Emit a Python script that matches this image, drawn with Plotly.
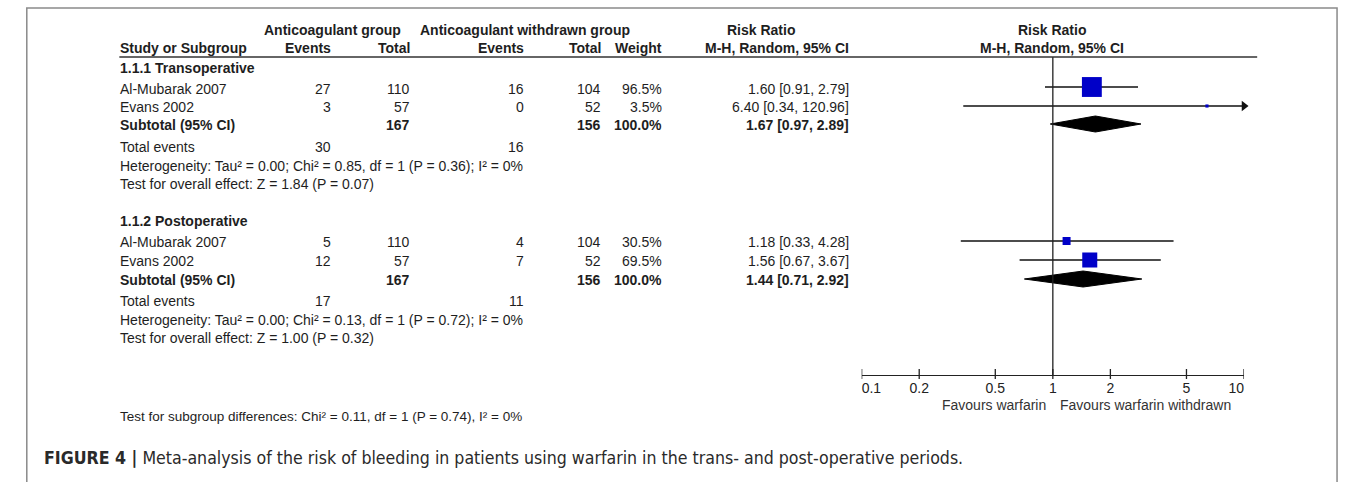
import plotly.graph_objects as go

# ---------------- data ----------------
studies = ["Al-Mubarak 2007", "Evans 2002"]

trans_events_a = [27, 3]
trans_total_a = [110, 57]
trans_events_w = [16, 0]
trans_total_w = [104, 52]
trans_weight = [96.5, 3.5]
trans_rr = [1.60, 6.40]
trans_lo = [0.91, 0.34]
trans_hi = [2.79, 120.96]
trans_sub = [1.67, 0.97, 2.89]
trans_sub_totals = [167, 156]
trans_total_events = [30, 16]
trans_het = "Heterogeneity: Tau² = 0.00; Chi² = 0.85, df = 1 (P = 0.36); I² = 0%"
trans_test = "Test for overall effect: Z = 1.84 (P = 0.07)"

post_events_a = [5, 12]
post_total_a = [110, 57]
post_events_w = [4, 7]
post_total_w = [104, 52]
post_weight = [30.5, 69.5]
post_rr = [1.18, 1.56]
post_lo = [0.33, 0.67]
post_hi = [4.28, 3.67]
post_sub = [1.44, 0.71, 2.92]
post_sub_totals = [167, 156]
post_total_events = [17, 11]
post_het = "Heterogeneity: Tau² = 0.00; Chi² = 0.13, df = 1 (P = 0.72); I² = 0%"
post_test = "Test for overall effect: Z = 1.00 (P = 0.32)"

subgroup_test = "Test for subgroup differences: Chi² = 0.11, df = 1 (P = 0.74), I² = 0%"
tick_vals = [0.1, 0.2, 0.5, 1, 2, 5, 10]
tick_text = ["0.1", "0.2", "0.5", "1", "2", "5", "10"]
axis_max = 10
caption_bold = "FIGURE 4 |"
caption_text = " Meta-analysis of the risk of bleeding in patients using warfarin in the trans- and post-operative periods."

# ---------------- layout constants (pixels) ----------------
W, H = 1355, 482
FONT = "Arial, Liberation Sans, sans-serif"
FS = 14
TXT = "#1e1e1e"
BLUE = "#0000c8"
NBSP = "\u00a0"

X_STUDY = 103
X_EV_A = 321
X_TOT_A = 402
X_EV_W = 519
X_TOT_W = 598
X_WEIGHT = 661
X_RR = 853
AXIS_Y = 375

fig = go.Figure()
annotations = []


def ann(x, y, text, anchor="right", bold=False, size=FS, color=TXT, family=FONT):
    if bold:
        text = "<b>" + text + "</b>"
    annotations.append(dict(x=x, y=y, xref="x", yref="y", text=text, showarrow=False,
                            xanchor=anchor, yanchor="middle", borderpad=0,
                            font=dict(family=family, size=size, color=color)))


def fmt_rr(r, lo, hi):
    return f"{r:.2f} [{lo:.2f}, {hi:.2f}]"


# headers
ann(322, 30, "Anticoagulant group", "center", True)
ann(519, 30, "Anticoagulant withdrawn group", "center", True)
ann(762, 30, "Risk Ratio", "center", True)
ann(1060, 30, "Risk Ratio", "center", True)
ann(X_STUDY, 48, "Study or Subgroup", "left", True)
ann(X_EV_A, 48, "Events", "right", True)
ann(X_TOT_A, 48, "Total", "right", True)
ann(X_EV_W, 48, "Events", "right", True)
ann(X_TOT_W, 48, "Total", "right", True)
ann(X_WEIGHT, 48, "Weight", "right", True)
ann(X_RR, 48, "M-H, Random, 95% CI", "right", True)
ann(1060, 48, "M-H, Random, 95% CI", "center", True)


def group_block(title, y_title, text_rows, y_sub, y_tot, y_het, y_test,
                ev_a, tot_a, ev_w, tot_w, wt, rr, lo, hi, sub, sub_tot,
                tot_ev, het, test, mark_rows, sub_mark_row):
    ann(X_STUDY, y_title, title, "left", True)
    for i, s in enumerate(studies):
        y = text_rows[i]
        ann(X_STUDY, y, s, "left")
        ann(X_EV_A, y, str(ev_a[i]))
        ann(X_TOT_A, y, str(tot_a[i]))
        ann(X_EV_W, y, str(ev_w[i]))
        ann(X_TOT_W, y, str(tot_w[i]))
        ann(X_WEIGHT, y, f"{wt[i]:.1f}%")
        ann(X_RR, y, fmt_rr(rr[i], lo[i], hi[i]))
    ann(X_STUDY, y_sub, "Subtotal (95% CI)", "left", True)
    ann(X_TOT_A, y_sub, str(sub_tot[0]), "right", True)
    ann(X_TOT_W, y_sub, str(sub_tot[1]), "right", True)
    ann(X_WEIGHT, y_sub, "100.0%", "right", True)
    ann(X_RR, y_sub, fmt_rr(*sub), "right", True)
    ann(X_STUDY, y_tot, "Total events", "left")
    ann(X_EV_A, y_tot, str(tot_ev[0]))
    ann(X_EV_W, y_tot, str(tot_ev[1]))
    ann(X_STUDY, y_het, het, "left")
    ann(X_STUDY, y_test, test, "left")

    # forest marks
    for i in range(len(studies)):
        y = mark_rows[i]
        right = min(hi[i], axis_max)
        fig.add_trace(go.Scatter(x=[lo[i], right], y=[y, y], xaxis="x2", yaxis="y",
                                 mode="lines", line=dict(color="#111", width=1.3),
                                 hoverinfo="skip", showlegend=False, cliponaxis=False))
        if hi[i] > axis_max:
            fig.add_trace(go.Scatter(x=[axis_max], y=[y], xaxis="x2", yaxis="y",
                                     mode="markers",
                                     marker=dict(symbol="triangle-right", size=9, color="#111"),
                                     hoverinfo="skip", showlegend=False, cliponaxis=False))
        fig.add_trace(go.Scatter(x=[rr[i]], y=[y], xaxis="x2", yaxis="y", mode="markers",
                                 marker=dict(symbol="square", size=2.5 + 0.18 * wt[i],
                                             color=BLUE, line=dict(width=0)),
                                 hoverinfo="skip", showlegend=False, cliponaxis=False))
    est, slo, shi = sub
    yd = sub_mark_row
    fig.add_trace(go.Scatter(x=[slo, est, shi, est, slo], y=[yd, yd - 8, yd, yd + 8, yd],
                             xaxis="x2", yaxis="y", mode="lines", fill="toself",
                             fillcolor="#000", line=dict(color="#000", width=1),
                             hoverinfo="skip", showlegend=False))


group_block("1.1.1 Transoperative", 68, [89, 107], 125, 147, 166, 184,
            trans_events_a, trans_total_a, trans_events_w,
            trans_total_w, trans_weight, trans_rr, trans_lo, trans_hi, trans_sub,
            trans_sub_totals, trans_total_events, trans_het, trans_test, [87, 106], 124)
group_block("1.1.2 Postoperative", 221, [242, 261], 280, 301, 320, 338,
            post_events_a, post_total_a, post_events_w,
            post_total_w, post_weight, post_rr, post_lo, post_hi, post_sub,
            post_sub_totals, post_total_events, post_het, post_test, [241, 260], 279)

ann(X_STUDY, 416, subgroup_test, "left", size=13.5)

# null line
fig.add_trace(go.Scatter(x=[1, 1], y=[57, AXIS_Y], xaxis="x2", yaxis="y", mode="lines",
                         line=dict(color="#222", width=1.3), hoverinfo="skip", showlegend=False))
# tick marks crossing axis
tx, ty = [], []
for t in tick_vals:
    tx += [t, t, None]
    ty += [AXIS_Y - 6, AXIS_Y + 4, None]
fig.add_trace(go.Scatter(x=tx, y=ty, xaxis="x2", yaxis="y", mode="lines",
                         line=dict(color="#222", width=1.3), hoverinfo="skip",
                         showlegend=False, cliponaxis=False))

# edge tick labels sit inside the axis ends, as in the reference
shown_ticks = list(tick_text)
shown_ticks[0] = NBSP * 5 + shown_ticks[0]
shown_ticks[-1] = shown_ticks[-1] + NBSP * 4

ann(1055, 405, "Favours warfarin", "right", color="#333")
ann(1068, 405, "Favours warfarin withdrawn", "left", color="#333")

# caption
annotations.append(dict(x=25, y=458, xref="x", yref="y", showarrow=False, xanchor="left",
                        yanchor="middle", borderpad=0,
                        text="<b>" + caption_bold + "</b>" + caption_text,
                        font=dict(family="Liberation Sans Narrow, DejaVu Sans Condensed, Arial Narrow, sans-serif",
                                  size=17.6, color="#2a2a2a")))

# invisible anchor trace for pixel axes
fig.add_trace(go.Scatter(x=[0, W], y=[0, H], mode="markers", marker=dict(opacity=0),
                         hoverinfo="skip", showlegend=False))

shapes = [
    dict(type="line", xref="x", yref="y", x0=X_STUDY, x1=1271, y0=57, y1=57,
         line=dict(color="#333", width=1.5)),
    dict(type="rect", xref="x", yref="y", x0=8, x1=1353, y0=8, y1=520,
         line=dict(color="#8a8a8a", width=1.5)),
]

fig.update_layout(
    width=W, height=H, autosize=False,
    margin=dict(l=0, r=0, t=0, b=0),
    paper_bgcolor="white", plot_bgcolor="white",
    showlegend=False,
    annotations=annotations, shapes=shapes,
    xaxis=dict(range=[0, W], visible=False, fixedrange=True, domain=[0, 1]),
    yaxis=dict(range=[H, 0], visible=False, fixedrange=True, domain=[0, 1]),
    xaxis2=dict(type="log", range=[-1, 1], domain=[865 / W, 1257.5 / W],
                anchor="free", position=1 - AXIS_Y / H,
                showline=True, linecolor="#222", linewidth=1.3,
                showgrid=False, zeroline=False, ticks="",
                tickvals=tick_vals, ticktext=shown_ticks,
                tickfont=dict(family=FONT, size=14, color="#222"),
                fixedrange=True),
)

fig.write_html("out.html", config={"displayModeBar": False},
               post_script="document.body.style.margin='0';document.body.style.overflow='hidden';")
